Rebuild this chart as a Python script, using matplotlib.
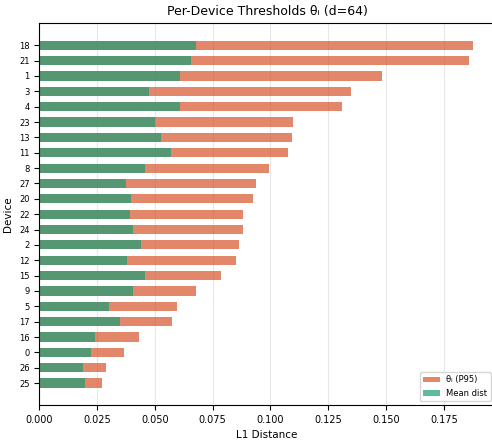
import matplotlib
matplotlib.use("Agg")
import matplotlib.pyplot as plt
import numpy as np

# devices ordered by threshold (largest at the top)
devices = ["18", "21", "1", "3", "4", "23", "13", "11", "8", "27", "20", "22",
           "24", "2", "12", "15", "9", "5", "17", "16", "0", "26", "25"]
thresh_p95 = [0.1877, 0.1857, 0.1484, 0.1350, 0.1311, 0.1096, 0.1092, 0.1077,
              0.0992, 0.0936, 0.0926, 0.0881, 0.0880, 0.0862, 0.0851, 0.0785,
              0.0676, 0.0596, 0.0575, 0.0431, 0.0368, 0.0290, 0.0270]
mean_dist = [0.0676, 0.0658, 0.0610, 0.0476, 0.0609, 0.0500, 0.0525, 0.0570,
             0.0457, 0.0375, 0.0398, 0.0392, 0.0404, 0.0441, 0.0379, 0.0457,
             0.0404, 0.0301, 0.0348, 0.0242, 0.0222, 0.0189, 0.0198]

# barh draws from the bottom, so flip the order
devices = devices[::-1]
thresh_p95 = thresh_p95[::-1]
mean_dist = mean_dist[::-1]
y = np.arange(len(devices))

fig = plt.figure(figsize=(4.92, 4.40), dpi=100)
ax = fig.add_axes([0.0799, 0.0795, 0.926, 0.8675])

ax.barh(y, thresh_p95, height=0.6, color="#d6552b", alpha=0.7, label="θᵢ (P95)")
ax.barh(y, mean_dist, height=0.6, color="#1b9e77", alpha=0.7, label="Mean dist")

ax.set_yticks(y)
ax.set_yticklabels(devices, fontsize=6)
ax.tick_params(axis="x", labelsize=7)
ax.set_xticks(np.arange(0, 0.176, 0.025))
ax.set_xlabel("L1 Distance", fontsize=7.5)
ax.set_ylabel("Device", fontsize=7.5)
ax.set_title("Per-Device Thresholds θᵢ (d=64)", fontsize=9)
ax.grid(axis="x", alpha=0.3)
ax.set_axisbelow(True)
ax.legend(loc="lower right", fontsize=6)

fig.savefig("out.png", dpi=100)
